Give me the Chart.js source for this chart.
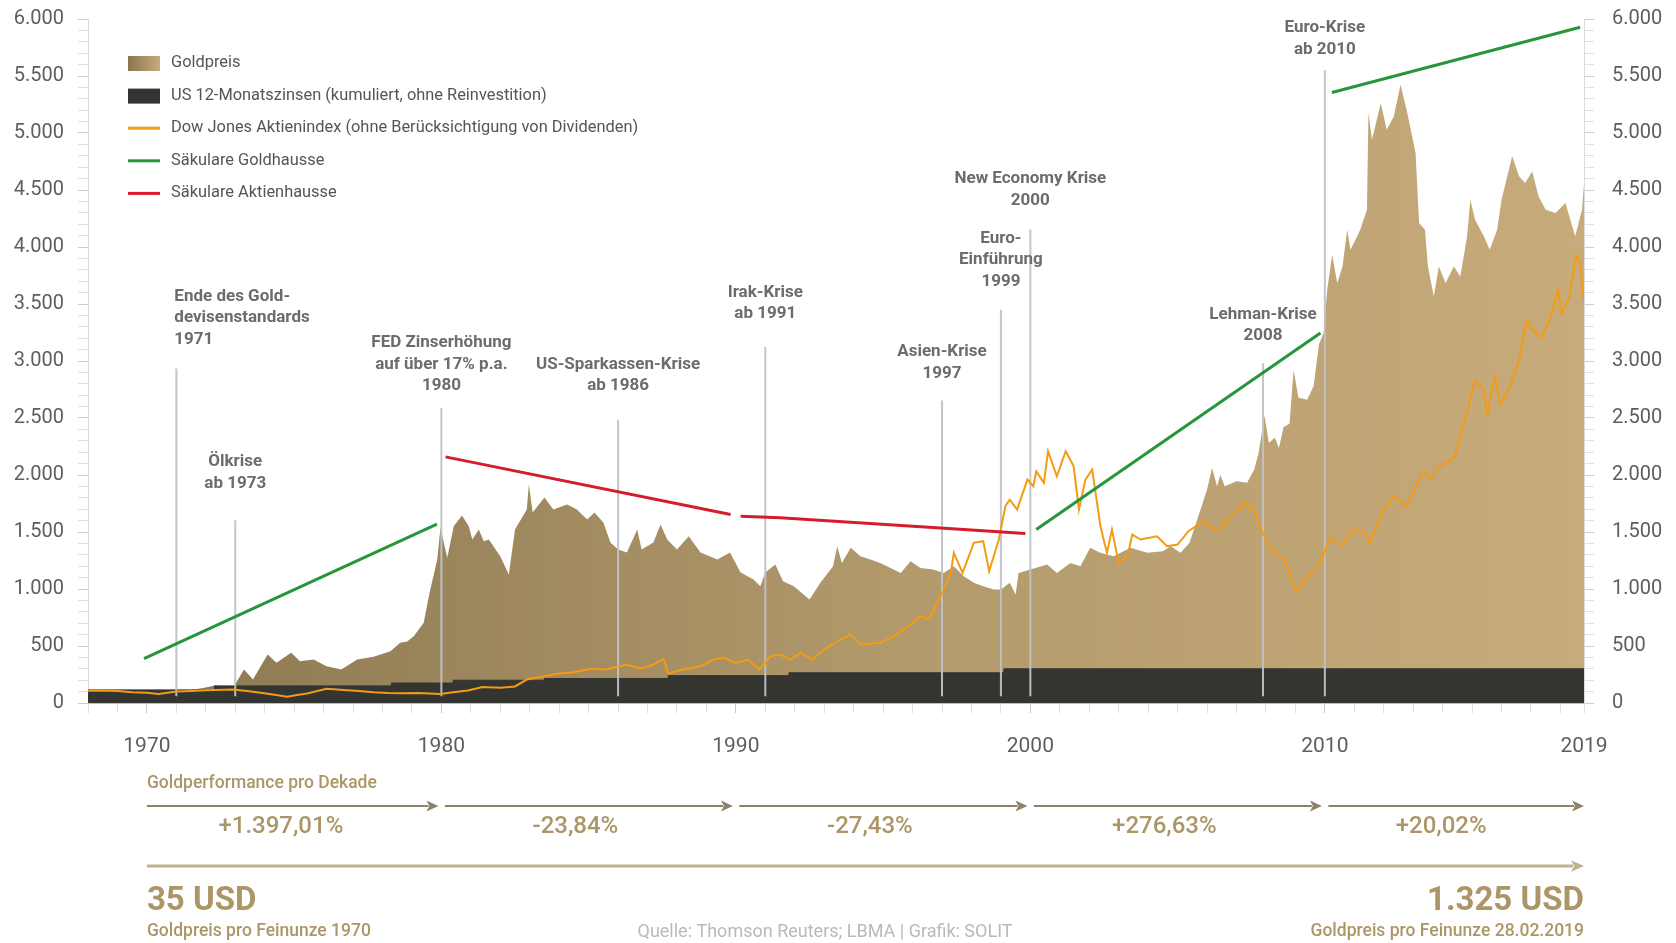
<!DOCTYPE html>
<html lang="de">
<head>
<meta charset="UTF-8">
<title>Goldpreis, Zinsen und Dow Jones 1968-2019</title>
<script src="https://cdn.jsdelivr.net/npm/chart.js@4.4.1/dist/chart.umd.min.js"></script>
<style>
  html, body { margin: 0; padding: 0; background: #fff; }
  #wrap { width: 1676px; height: 943px; }
</style>
</head>
<body>
<div id="wrap"><canvas id="goldChart" width="1676" height="943"></canvas></div>
<script>
// ---- data (indexed) ----
const goldYears = [1968.0,1968.5,1969.0,1969.5,1970.0,1970.5,1971.0,1971.5,1972.0,1972.3,
  1972.95,1973.3,1973.6,1974.1,1974.4,1974.9,1975.2,1975.66,1976.1,1976.6,
  1977.14,1977.7,1978.27,1978.6,1978.84,1979.06,1979.4,1979.6,1979.86,1979.97,
  1980.08,1980.2,1980.42,1980.7,1980.93,1981.05,1981.27,1981.44,1981.61,1982.0,
  1982.29,1982.5,1982.7,1982.9,1982.97,1983.1,1983.5,1983.8,1984.27,1984.6,
  1984.95,1985.2,1985.5,1985.74,1986.0,1986.3,1986.65,1986.8,1987.2,1987.44,
  1987.67,1988.0,1988.4,1988.8,1989.37,1989.8,1990.16,1990.6,1990.83,1991.0,
  1991.34,1991.6,1991.97,1992.5,1992.87,1993.3,1993.44,1993.6,1993.9,1994.23,
  1994.57,1994.9,1995.25,1995.6,1995.93,1996.27,1996.7,1997.06,1997.4,1997.74,
  1998.08,1998.4,1998.76,1999.0,1999.3,1999.5,1999.6,2000.0,2000.57,2000.9,
  2001.36,2001.7,2002.03,2002.37,2002.83,2003.4,2003.97,2004.5,2004.76,2005.1,
  2005.4,2005.78,2006.0,2006.17,2006.34,2006.45,2006.6,2007.0,2007.36,2007.6,
  2007.75,2007.95,2008.1,2008.3,2008.44,2008.6,2008.8,2008.94,2009.1,2009.4,
  2009.62,2009.8,2009.96,2010.08,2010.25,2010.42,2010.6,2010.76,2010.87,2011.04,
  2011.2,2011.43,2011.48,2011.6,2011.9,2012.1,2012.34,2012.57,2012.8,2013.08,
  2013.2,2013.4,2013.5,2013.7,2013.87,2014.1,2014.38,2014.6,2014.83,2014.94,
  2015.1,2015.4,2015.6,2015.85,2016.0,2016.36,2016.6,2016.8,2017.04,2017.26,
  2017.5,2017.83,2018.17,2018.5,2018.73,2018.8];
const goldValues = [103,108,110,105,100,104,108,115,135,153,
  145,294,206,425,352,440,366,381,323,294,
  381,405,454,528,540,586,703,969,1258,1539,
  1407,1275,1550,1644,1550,1434,1521,1419,1434,1287,
  1127,1521,1609,1697,1916,1670,1802,1697,1741,1697,
  1609,1670,1583,1407,1346,1320,1521,1346,1407,1565,
  1434,1346,1463,1320,1258,1320,1144,1083,1024,1144,
  1214,1068,1024,907,1054,1200,1375,1229,1361,1287,
  1258,1229,1185,1141,1243,1185,1170,1141,1200,1112,
  1054,1024,995,995,1054,951,1141,1170,1214,1141,
  1229,1200,1361,1317,1287,1361,1317,1331,1375,1317,
  1404,1697,1872,2062,1901,2003,1901,1945,1931,2047,
  2193,2520,2280,2330,2237,2420,2450,2920,2680,2661,
  2780,3150,3245,3626,3932,3684,3830,4152,3976,4064,
  4152,4327,5175,4941,5262,5028,5145,5423,5175,4824,
  4210,4152,3830,3567,3830,3684,3830,3742,4094,4415,
  4240,4094,3976,4152,4415,4795,4619,4561,4663,4444,
  4327,4298,4386,4094,4327,4550];

const dowYears = [1968.0,1968.5,1969.0,1969.5,1970.0,1970.4,1971.0,1971.5,1972.0,1972.9,
  1973.4,1973.86,1974.4,1974.76,1975.1,1975.44,1976.1,1976.8,1977.2,1977.7,
  1978.2,1978.6,1979.2,1979.97,1980.4,1980.9,1981.4,1982.0,1982.5,1982.9,
  1983.5,1984.0,1984.5,1985.06,1985.6,1986.3,1986.76,1987.2,1987.55,1987.7,
  1988.2,1988.8,1989.25,1989.6,1990.0,1990.4,1990.8,1991.17,1991.5,1991.85,
  1992.2,1992.6,1993.0,1993.55,1993.9,1994.23,1994.9,1995.36,1995.8,1996.27,
  1996.55,1996.84,1997.06,1997.3,1997.4,1997.7,1998.08,1998.4,1998.6,1998.93,
  1999.15,1999.3,1999.55,1999.9,2000.1,2000.2,2000.46,2000.6,2000.9,2001.2,
  2001.47,2001.65,2001.87,2002.1,2002.38,2002.6,2002.77,2003.0,2003.3,2003.46,
  2003.74,2004.3,2004.64,2005.0,2005.36,2005.86,2006.36,2006.86,2007.3,2007.6,
  2007.86,2008.23,2008.6,2009.04,2009.35,2009.73,2010.0,2010.16,2010.6,2010.97,
  2011.35,2011.53,2011.97,2012.34,2012.78,2013.34,2013.59,2013.84,2014.4,2014.84,
  2015.09,2015.4,2015.52,2015.77,2015.96,2016.3,2016.6,2016.86,2017.04,2017.36,
  2017.67,2017.92,2018.04,2018.3,2018.54,2018.67,2018.79];
const dowValues = [108,110,105,95,89,80,100,105,112,118,
  105,89,70,54,70,83,124,112,105,95,
  88,85,88,80,95,110,140,133,145,206,
  235,259,270,300,294,338,300,338,387,259,
  294,323,381,396,352,381,294,410,425,381,
  440,381,469,557,601,513,528,586,659,761,
  732,878,995,1141,1317,1141,1405,1419,1156,1434,
  1726,1784,1697,1960,1901,2033,1931,2208,1989,2208,
  2076,1697,1960,2047,1550,1317,1521,1229,1287,1477,
  1434,1463,1375,1390,1505,1593,1505,1652,1755,1682,
  1505,1329,1270,976,1094,1182,1329,1446,1388,1520,
  1491,1402,1682,1814,1726,2034,1961,2064,2152,2564,
  2828,2740,2534,2858,2622,2780,3014,3362,3275,3203,
  3391,3623,3420,3565,3927,3855,3536];

// US 12-Monatszinsen, kumuliert (step starts)
const zinsYears = [1968, 1972.3, 1978.3, 1980.4, 1983.5, 1987.7, 1991.8, 1999.1, 2007.0, 2018.8];
const zinsValues = [90, 115, 150, 175, 200, 215, 240, 265, 300, 300];

// trend lines, one pair per segment
const goldHausseX = [[1969.9, 1979.85], [2000.2, 2009.85], [2010.24, 2018.67]];
const goldHausseY = [[390, 1570], [1521, 3245], [5355, 5928]];
const aktienHausseX = [[1980.14, 1989.82], [1990.16, 1991.5, 1996.95, 1999.83]];
const aktienHausseY = [[2159, 1653], [1638, 1624, 1536, 1486]];

// events
const eventYears = [1971, 1973, 1980, 1986, 1991, 1997, 1999, 2000, 2007.9, 2010];
const eventTops = [2934, 1603, 2587, 2484, 3122, 2653, 3450, 4153, 2981, 5550];
const eventLabels = [
  ['Ende des Gold-', 'devisenstandards', '1971'],
  ['Ölkrise', 'ab 1973'],
  ['FED Zinserhöhung', 'auf über 17% p.a.', '1980'],
  ['US-Sparkassen-Krise', 'ab 1986'],
  ['Irak-Krise', 'ab 1991'],
  ['Asien-Krise', '1997'],
  ['Euro-', 'Einführung', '1999'],
  ['New Economy Krise', '2000'],
  ['Lehman-Krise', '2008'],
  ['Euro-Krise', 'ab 2010']
];
// label placement: px gap above the line top, alignment
const eventLabelGap = [29, 37, 22, 34, 33, 27, 28, 29, 27, 21];
const eventLabelAlign = ['left', 'center', 'center', 'center', 'center', 'center', 'center', 'center', 'center', 'center'];

const seriesNames = [
  'Goldpreis',
  'US 12-Monatszinsen (kumuliert, ohne Reinvestition)',
  'Dow Jones Aktienindex (ohne Berücksichtigung von Dividenden)',
  'Säkulare Goldhausse',
  'Säkulare Aktienhausse'
];

const decadeStarts = [1970, 1980, 1990, 2000, 2010];
const decadeEnds = [1980, 1990, 2000, 2010, 2018.8];
const decadePerformance = [1397.01, -23.84, -27.43, 276.63, 20.02];
const startPrice = 35;
const endPrice = 1325;

const xMin = 1968, xMax = 2018.8;
const xTickValues = [];
for (let y = 1968; y <= 2018; y++) xTickValues.push(y);
xTickValues.push(xMax);

// ---- colours ----
const C = {
  goldDark: '#8a7550',
  goldMid: '#b29a6c',
  goldLight: '#c8ab7b',
  zins: '#343431',
  dow: '#f29b13',
  green: '#27963a',
  red: '#d41c2c',
  event: 'rgba(192,194,200,0.95)',
  axisText: '#5e5e5e',
  note: '#6c6c6c',
  tan: '#ac9667',
  arrowDark: '#8d8169',
  arrowLight: '#c0b28f',
  source: '#b9b9b9'
};
const FONT = 'Roboto, "Open Sans", sans-serif';

// ---- helpers ----
function fmtDE(v) {
  return Math.round(v).toString().replace(/\B(?=(\d{3})+(?!\d))/g, '.');
}
function fmtPct(v) {
  const s = Math.abs(v).toFixed(2).replace('.', ',').replace(/\B(?=(\d{3})+(?!\d))/g, '.');
  return (v > 0 ? '+' : '-') + s + '%';
}
function toPoints(xs, ys) {
  return xs.map((x, i) => ({ x: x, y: ys[i] }));
}
function segmentsToPoints(xSegs, ySegs) {
  const pts = [];
  xSegs.forEach((seg, i) => {
    seg.forEach((x, j) => pts.push({ x: x, y: ySegs[i][j] }));
    pts.push({ x: seg[seg.length - 1], y: null });
  });
  return pts;
}
const eventPoints = [];
eventYears.forEach((yr, i) => {
  eventPoints.push({ x: yr, y: 60 }, { x: yr, y: eventTops[i] }, { x: yr, y: null });
});

function goldGradient(ctx) {
  const chart = ctx.chart;
  const area = chart.chartArea;
  if (!area) return C.goldMid;
  const g = chart.ctx.createLinearGradient(area.left, 0, area.right, 0);
  g.addColorStop(0, C.goldDark);
  g.addColorStop(0.55, C.goldMid);
  g.addColorStop(1, C.goldLight);
  return g;
}

function arrow(ctx, x1, x2, y, color, width, head) {
  ctx.strokeStyle = color;
  ctx.fillStyle = color;
  ctx.lineWidth = width;
  ctx.beginPath();
  ctx.moveTo(x1, y);
  ctx.lineTo(x2 - head + 2, y);
  ctx.stroke();
  ctx.beginPath();
  ctx.moveTo(x2, y);
  ctx.lineTo(x2 - head, y - head * 0.45);
  ctx.lineTo(x2 - head * 0.75, y);
  ctx.lineTo(x2 - head, y + head * 0.45);
  ctx.closePath();
  ctx.fill();
}

// ---- extra drawing: notes, legend, footer ----
const extrasPlugin = {
  id: 'extras',
  afterDraw(chart) {
    const ctx = chart.ctx;
    const xs = chart.scales.x, ys = chart.scales.y;
    ctx.save();

    // event labels
    ctx.font = 'bold 17px ' + FONT;
    ctx.fillStyle = C.note;
    ctx.textBaseline = 'middle';
    eventLabels.forEach((lines, i) => {
      const px = xs.getPixelForValue(eventYears[i]);
      const lastY = ys.getPixelForValue(eventTops[i]) - eventLabelGap[i];
      const left = eventLabelAlign[i] === 'left';
      ctx.textAlign = left ? 'left' : 'center';
      lines.forEach((t, j) => {
        const y = lastY - (lines.length - 1 - j) * 21.5;
        ctx.fillText(t, left ? px - 2 : px, y);
      });
    });

    // legend
    const lx = 128, ly = 63, step = 32.6, sw = 32;
    ctx.textAlign = 'left';
    ctx.font = '16.4px ' + FONT;
    seriesNames.forEach((name, i) => {
      const y = ly + i * step;
      if (i === 0) {
        const g = ctx.createLinearGradient(lx, 0, lx + sw, 0);
        g.addColorStop(0, C.goldDark);
        g.addColorStop(1, C.goldLight);
        ctx.fillStyle = g;
        ctx.fillRect(lx, y - 7, sw, 15);
      } else if (i === 1) {
        ctx.fillStyle = C.zins;
        ctx.fillRect(lx, y - 7, sw, 15);
      } else {
        ctx.strokeStyle = [C.dow, C.green, C.red][i - 2];
        ctx.lineWidth = 3;
        ctx.beginPath();
        ctx.moveTo(lx, y);
        ctx.lineTo(lx + sw, y);
        ctx.stroke();
      }
      ctx.fillStyle = '#555';
      ctx.fillText(name, lx + 43, y);
    });

    // footer: performance per decade
    const x0 = xs.getPixelForValue(decadeStarts[0]);
    const xEnd = xs.getPixelForValue(xMax);
    ctx.fillStyle = C.tan;
    ctx.font = '500 17.5px ' + FONT;
    ctx.fillText('Goldperformance pro Dekade', x0, 784);

    decadeStarts.forEach((s, i) => {
      const a = xs.getPixelForValue(i === 0 ? s : s + 0.12);
      const b = xs.getPixelForValue(decadeEnds[i] - (i === 4 ? 0 : 0.1));
      arrow(ctx, a, b, 806, C.arrowDark, 2, 12);
      const mid = xs.getPixelForValue((s + decadeEnds[i]) / 2 - 0.45);
      ctx.fillStyle = C.tan;
      ctx.font = '500 24px ' + FONT;
      ctx.textAlign = 'center';
      ctx.fillText(fmtPct(decadePerformance[i]), mid, 827);
    });

    arrow(ctx, x0, xEnd, 866, C.arrowLight, 3, 13);

    ctx.fillStyle = C.tan;
    ctx.font = 'bold 33px ' + FONT;
    ctx.textAlign = 'left';
    ctx.fillText(fmtDE(startPrice) + ' USD', x0, 902);
    ctx.textAlign = 'right';
    ctx.fillText(fmtDE(endPrice) + ' USD', xEnd, 902);

    ctx.font = '500 17.5px ' + FONT;
    ctx.textAlign = 'left';
    ctx.fillText('Goldpreis pro Feinunze 1970', x0, 932);
    ctx.textAlign = 'right';
    ctx.fillText('Goldpreis pro Feinunze 28.02.2019', xEnd, 932);

    ctx.fillStyle = C.source;
    ctx.font = '18px ' + FONT;
    ctx.textAlign = 'center';
    ctx.fillText('Quelle: Thomson Reuters; LBMA | Grafik: SOLIT', 825, 932);

    ctx.restore();
  }
};

function yTicks(scale) {
  const t = [];
  for (let v = 0; v <= 6000; v += 100) t.push({ value: v });
  scale.ticks = t;
}
function yAxis(position, width, pad) {
  return {
    type: 'linear',
    position: position,
    min: 0,
    max: 6000,
    afterBuildTicks: yTicks,
    afterFit: (s) => { s.width = width; s.paddingTop = 0; s.paddingBottom = 0; },
    grid: {
      drawOnChartArea: false,
      drawTicks: true,
      tickLength: 10,
      tickColor: (c) => (c.tick && c.tick.value % 500 === 0) ? '#cdcdcd' : '#e0e0e0'
    },
    border: { display: true, color: '#dadada' },
    ticks: {
      autoSkip: false,
      padding: pad,
      color: C.axisText,
      font: { family: FONT, size: 20 },
      callback: (v) => v % 500 === 0 ? fmtDE(v) : ''
    }
  };
}

new Chart(document.getElementById('goldChart').getContext('2d'), {
  type: 'line',
  data: {
    datasets: [
      {
        label: seriesNames[0],
        data: toPoints(goldYears, goldValues),
        fill: 'origin',
        backgroundColor: goldGradient,
        borderWidth: 0,
        pointRadius: 0,
        order: 6
      },
      {
        label: seriesNames[1],
        data: toPoints(zinsYears, zinsValues),
        stepped: 'after',
        fill: 'origin',
        backgroundColor: C.zins,
        borderColor: C.zins,
        borderWidth: 1,
        pointRadius: 0,
        order: 5
      },
      {
        label: 'Ereignisse',
        data: eventPoints,
        borderColor: C.event,
        borderWidth: 2,
        pointRadius: 0,
        spanGaps: false,
        order: 4
      },
      {
        label: seriesNames[2],
        data: toPoints(dowYears, dowValues),
        borderColor: C.dow,
        borderWidth: 2,
        pointRadius: 0,
        order: 2
      },
      {
        label: seriesNames[3],
        data: segmentsToPoints(goldHausseX, goldHausseY),
        borderColor: C.green,
        borderWidth: 3,
        pointRadius: 0,
        spanGaps: false,
        order: 1
      },
      {
        label: seriesNames[4],
        data: segmentsToPoints(aktienHausseX, aktienHausseY),
        borderColor: C.red,
        borderWidth: 3,
        pointRadius: 0,
        spanGaps: false,
        order: 1
      }
    ]
  },
  options: {
    responsive: false,
    devicePixelRatio: 1,
    animation: false,
    layout: { padding: { top: 19, left: 0, right: 0, bottom: 0 } },
    elements: { line: { tension: 0 } },
    plugins: {
      legend: { display: false },
      tooltip: { enabled: false }
    },
    scales: {
      x: {
        type: 'linear',
        min: xMin,
        max: xMax,
        afterBuildTicks: (s) => { s.ticks = xTickValues.map(v => ({ value: v })); },
        afterFit: (s) => { s.height = 240; },
        grid: {
          drawOnChartArea: false,
          drawTicks: true,
          tickLength: 10,
          tickColor: (c) => (c.tick && c.tick.value % 10 === 0) ? '#c8c8c8' : '#dedede'
        },
        border: { display: true, color: '#bdbdbd' },
        ticks: {
          autoSkip: false,
          maxRotation: 0,
          padding: 21,
          color: C.axisText,
          font: { family: FONT, size: 21 },
          callback: (v) => v === xMax ? '2019' : (v % 10 === 0 ? String(v) : '')
        }
      },
      y: yAxis('left', 88, 14),
      y2: yAxis('right', 92, 18)
    }
  },
  plugins: [extrasPlugin]
});
</script>
</body>
</html>
